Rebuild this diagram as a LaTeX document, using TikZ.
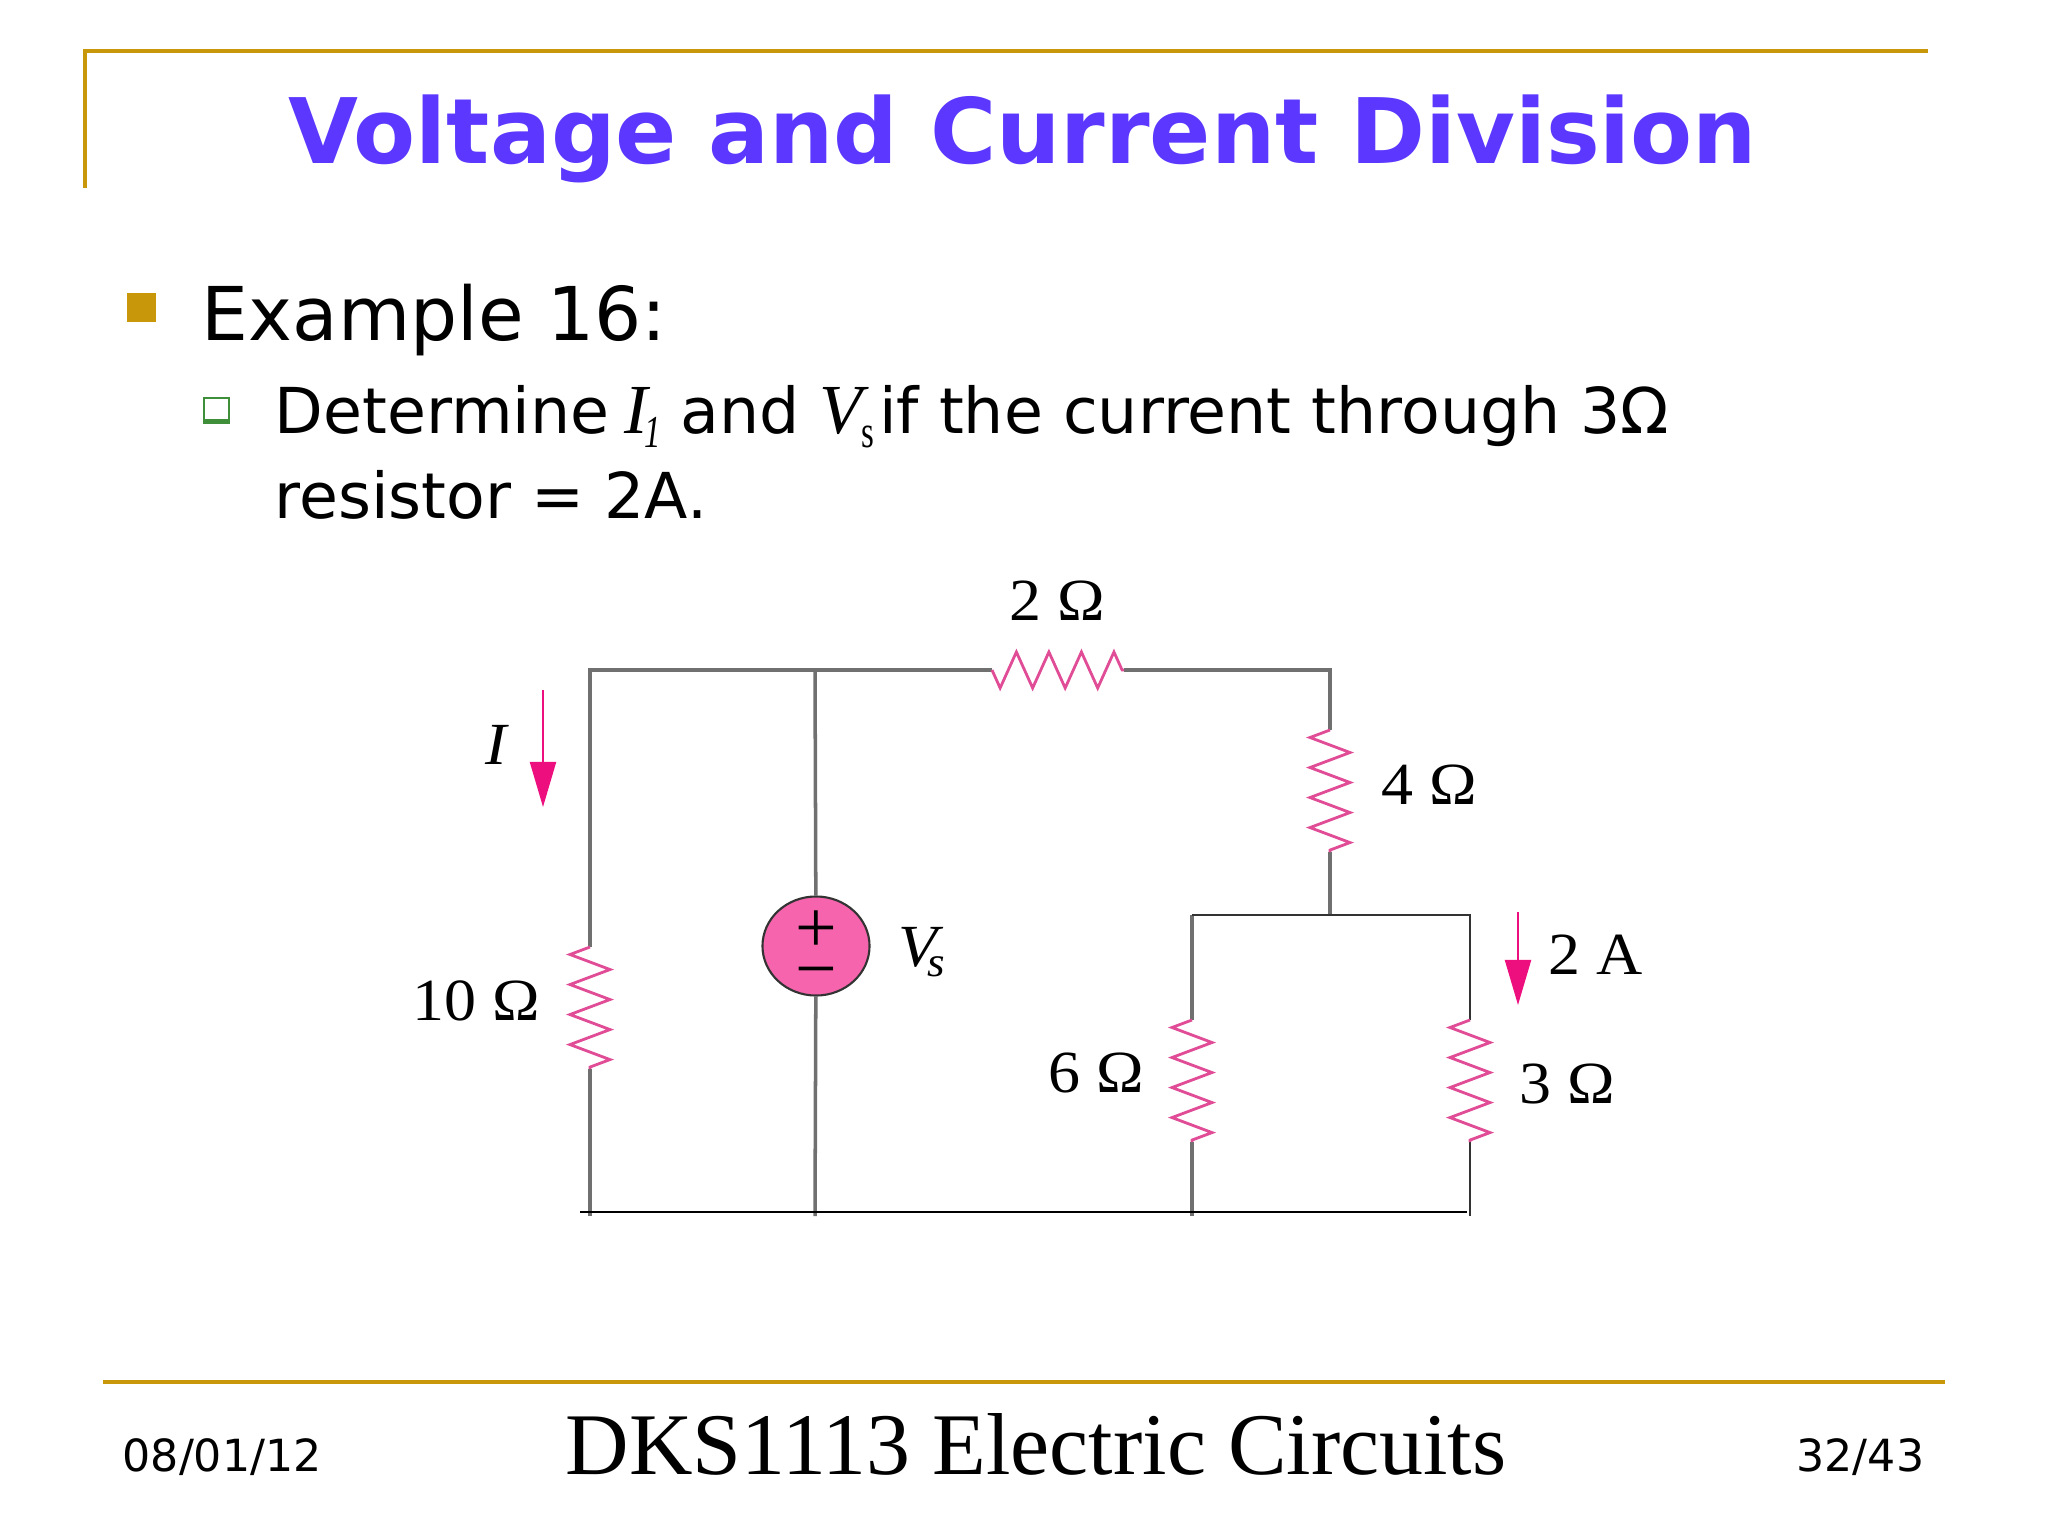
\documentclass[tikz,border=0pt]{standalone}
\usepackage{fontspec}
\setmainfont{DejaVu Sans}
\newfontfamily\timesfont{Liberation Serif}
\newfontfamily\circfont[FakeStretch=1.07]{Liberation Serif}
\newfontfamily\subfont[FakeStretch=0.72]{Liberation Serif}
\usetikzlibrary{arrows.meta}
\usetikzlibrary{decorations.pathmorphing}
\usetikzlibrary{shapes.geometric}
\definecolor{slidegold}{HTML}{C8980A}
\definecolor{slideblue}{HTML}{5B37FF}
\definecolor{wiregray}{HTML}{707070}
\definecolor{respink}{HTML}{E04C96}
\definecolor{arrowpink}{HTML}{EE0F7F}
\definecolor{srcpink}{HTML}{F564AC}
\definecolor{bulletgreen}{HTML}{3E8E3A}
\tikzset{
	wire/.style={draw=wiregray,line width=1pt},
	thinwire/.style={draw=black!80,line width=0.55pt},
	railwire/.style={draw=black,line width=0.8pt},
	reshoriz/.style={draw=respink,line width=0.8pt,decorate,decoration={zigzag,mirror,amplitude=0.18cm,segment length=0.325cm}},
	resvert/.style={draw=respink,line width=0.8pt,decorate,decoration={zigzag,mirror,amplitude=0.2cm,segment length=0.3cm}},
	curarrow/.style={draw=arrowpink,fill=arrowpink,line width=0.6pt,-{Triangle[length=0.45cm,width=0.26cm]}},
	circlabel/.style={anchor=base,inner sep=0pt,font=\circfont\fontsize{17}{17}\selectfont},
	srcsign/.style={anchor=center,inner sep=0pt,font=\timesfont\fontsize{21}{21}\selectfont},
	goldline/.style={draw=slidegold,line width=1.1pt},
	textline/.style={anchor=base west,inner sep=0pt}
}
\begin{document}
\begin{tikzpicture}[x=0.01cm,y=-0.01cm]
	\useasboundingbox (0,0) rectangle (2048,1536);

	% frame
	\draw[goldline] (85,188) -- (85,51) -- (1928,51);
	\draw[goldline] (103,1382) -- (1945,1382);

	% text
	\node[anchor=base,inner sep=0pt,text=slideblue,font=\bfseries\fontsize{25.7}{26}\selectfont] (title) at (1023,163) {Voltage and Current Division};
	\fill[slidegold] (127,293) rectangle (156,322);
	\node[textline,font=\fontsize{21.1}{22}\selectfont] (example) at (201,340) {Example 16:};
	\draw[bulletgreen,line width=0.7pt,fill=white] (204,398) rectangle (229,423);
	\fill[bulletgreen] (204,419) rectangle (230,424);
	\node[textline,font=\fontsize{18}{18}\selectfont] (line1) at (274,433) {Determine\kern-1.5pt{} {\timesfont\itshape\fontsize{20}{20}\selectfont I\kern-1pt\raisebox{-4pt}{\subfont\itshape\fontsize{13}{13}\selectfont 1}} and {\timesfont\itshape\fontsize{20}{20}\selectfont V\raisebox{-4pt}{\kern-0.5pt\subfont\fontsize{13}{13}\selectfont\upshape s}}\kern1.5pt if the current through 3Ω};
	\node[textline,font=\fontsize{18}{18}\selectfont] (line2) at (274,518) {resistor = 2A.};

	% points
	\coordinate (TL) at (590,670);
	\coordinate (TS) at (815,670);
	\coordinate (R2a) at (992,670);
	\coordinate (R2b) at (1124,670);
	\coordinate (TR) at (1330,670);
	\coordinate (R4a) at (1330,730);
	\coordinate (R4b) at (1330,852);
	\coordinate (J) at (1330,915);
	\coordinate (JL) at (1192,915);
	\coordinate (JR) at (1470,915);
	\coordinate (R10a) at (590,947);
	\coordinate (R10b) at (590,1069);
	\coordinate (R6a) at (1192,1020);
	\coordinate (R6b) at (1192,1142);
	\coordinate (R3a) at (1470,1020);
	\coordinate (R3b) at (1470,1142);
	\coordinate (BL) at (590,1216);
	\coordinate (BS) at (815,1216);
	\coordinate (BM) at (1192,1216);
	\coordinate (BR) at (1470,1216);
	\coordinate (RailA) at (580,1212);
	\coordinate (RailB) at (1467,1212);

	% source
	\node[ellipse,draw=black!80,fill=srcpink,line width=0.6pt,minimum width=1.07cm,minimum height=0.99cm,inner sep=0pt] (Vsrc) at (816,946) {};
	\node[srcsign] (plus) at (816,932) {+};
	\node[srcsign] (minus) at (816,980) {−};

	% wires
	\draw[wire] (R10a) -- (TL) -- (R2a);
	\draw[wire] (R2b) -- (TR) -- (R4a);
	\draw[wire] (TS) -- (Vsrc);
	\draw[wire] (Vsrc) -- (BS);
	\draw[wire] (R10b) -- (BL);
	\draw[wire] (R4b) -- (J);
	\draw[wire] (JL) -- (R6a);
	\draw[wire] (R6b) -- (BM);
	\draw[thinwire] (JL) -- (JR) -- (R3a);
	\draw[thinwire] (R3b) -- (BR);
	\draw[railwire] (RailA) -- (RailB);

	% resistors
	\draw[reshoriz] (R2a) -- (R2b);
	\foreach \r in {10,4,6,3} {
		\draw[resvert] (R\r a) -- (R\r b);
	}

	% labels
	\node[circlabel] (L2) at (1057,620) {2 Ω};
	\node[circlabel] (L10) at (476,1020) {10 Ω};
	\node[circlabel] (L4) at (1429,804) {4 Ω};
	\node[circlabel] (L6) at (1096,1092) {6 Ω};
	\node[circlabel] (L3) at (1567,1103) {3 Ω};
	\node[circlabel] (LA) at (1596,974) {2 A};
	\node[circlabel] (LI) at (496,764) {\itshape I};
	\node[circlabel] (LV) at (922,966) {\itshape V\kern-3pt\raisebox{-3pt}{\fontsize{12}{12}\selectfont s}};

	% currents
	\coordinate (Ia) at (543,690);
	\coordinate (Ib) at (543,807);
	\coordinate (Aa) at (1518,912);
	\coordinate (Ab) at (1518,1005);
	\draw[curarrow] (Ia) -- (Ib);
	\draw[curarrow] (Aa) -- (Ab);

	% footer
	\node[textline,font=\fontsize{12.6}{13}\selectfont] (date) at (122,1471) {08/01/12};
	\node[anchor=base,inner sep=0pt,font=\timesfont\fontsize{25}{25}\selectfont] (course) at (1036,1474) {DKS1113 Electric Circuits};
	\node[anchor=base east,inner sep=0pt,font=\fontsize{12.6}{13}\selectfont] (page) at (1925,1471) {32/43};
\end{tikzpicture}
\end{document}
